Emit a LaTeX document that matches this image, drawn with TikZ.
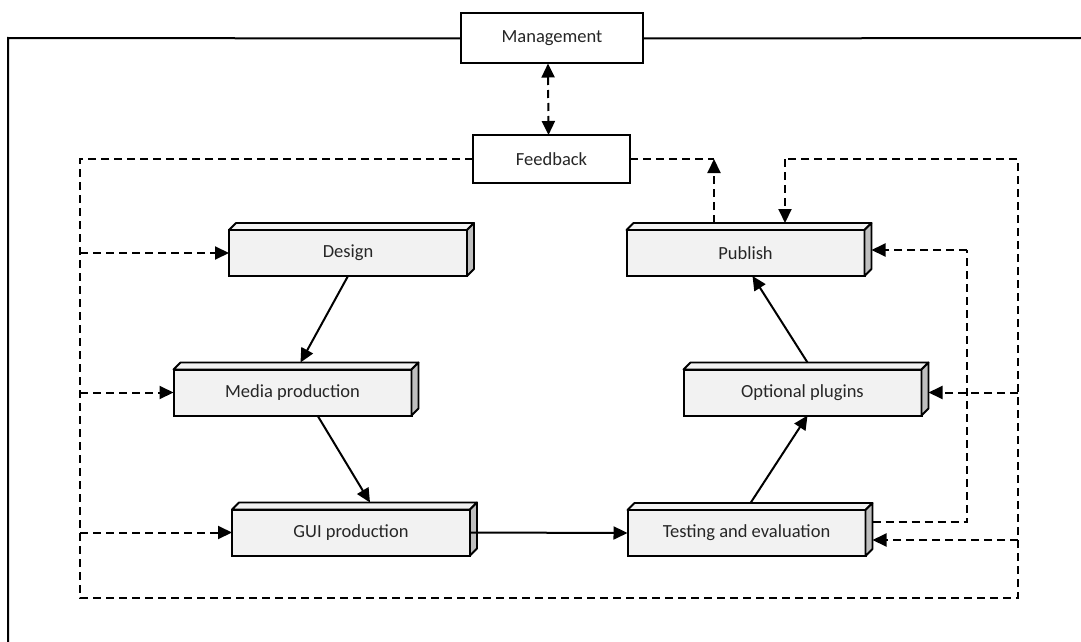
\documentclass[tikz,border=0pt]{standalone}
\usepackage{fontspec}
\setmainfont{Carlito}
\usetikzlibrary{arrows.meta}

\begin{document}
\begin{tikzpicture} [
                x=1pt, y=-1pt,
                every node/.style={font=\fontsize{18.5}{22}\selectfont, text=black!85},
                plain box/.style={draw, line width=2pt, fill=white, inner sep=0pt, outer sep=0pt},
                stage/.style={plain box, fill=black!5, minimum width=238pt, minimum height=46pt},
                depth top/.style={draw, line width=1.8pt, fill=black!5, line join=round},
                depth side/.style={draw, line width=1.8pt, fill=black!25, line join=round},
                flow/.style={draw, line width=2pt, -{Triangle[length=14pt,width=13pt]}},
                back/.style={draw, line width=2pt, dash pattern=on 8pt off 5pt},
                back arrow/.style={back, -{Triangle[length=14pt,width=13pt]}},
                frame/.style={draw, line width=2pt},
            ]
            \useasboundingbox (0,0) rectangle (1081,642);
            % First the management and feedback boxes
            \node[plain box, minimum width=182pt, minimum height=50pt] (mgmt) at (552,38.5) {Management};
            \node[plain box, minimum width=157pt, minimum height=48pt] (fb) at (551.5,159) {Feedback};
            % Then the stages
            \foreach \pos/\name/\text in {
                    {(348,253)/design/Design}, {(292.5,392.5)/media/Media production},
                    {(351,532.5)/gui/GUI production}, {(745.5,253)/publish/Publish},
                    {(802.5,392.5)/plugins/Optional plugins}, {(746.5,533)/testing/Testing and evaluation}}
                \node[stage] (\name) at \pos {\text};
            % give every stage its depth
            \foreach \name in {design, media, gui, publish, plugins, testing} {
                \path[depth top] (\name.north west) -- ++(7,-7) -- ([shift={(7,-7)}]\name.north east) -- (\name.north east) -- cycle;
                \path[depth side] (\name.north east) -- ++(7,-7) -- ([shift={(7,-7)}]\name.south east) -- (\name.south east) -- cycle;
            }
            % Points of the frame and of the feedback loop
            \coordinate (frameL) at (8,38);
            \coordinate (frameB) at (8,642);
            \coordinate (frameR) at (1081,38);
            \coordinate (loopTL) at (80,159);
            \coordinate (loopBL) at (80,598);
            \coordinate (loopBR) at (1018,598);
            \coordinate (loopTR) at (1018,159);
            \coordinate (loopIn) at (785,159);
            \coordinate (fbOut) at (714,159);
            \coordinate (testUp) at (967,522);
            \coordinate (testTop) at (967,250);
            \coordinate (pubTop) at ([yshift=7]publish.north);
            \coordinate (testIn) at ([shift={(7,7)}]testing.east);
            % Frame round everything
            \path[frame] (mgmt.west) -- (frameL) -- (frameB);
            \path[frame] (mgmt.east) -- (frameR);
            % Connect stages with arrows
            \path[flow] (design.south) -- ([shift={(8,-7)}]media.north);
            \path[flow] ([xshift=25]media.south) -- ([shift={(19,-7)}]gui.north);
            \path[flow] (gui.east) -- (testing.west);
            \path[flow] ([shift={(4,-7)}]testing.north) -- ([xshift=5]plugins.south);
            \path[flow] ([shift={(5,-7)}]plugins.north) -- ([xshift=7]publish.south);
            % Feedback loop
            \path[back, {Triangle[length=14pt,width=13pt]}-{Triangle[length=14pt,width=13pt]}]
                ([xshift=-4]mgmt.south) -- ([xshift=-3]fb.north);
            \path[back] (fb.west) -- (loopTL) -- (loopBL) -- (loopBR) -- (loopTR) -- (loopIn);
            \path[back arrow] (loopIn) -- (loopIn |- pubTop);
            \path[back] (fb.east) -- (fbOut);
            \path[back arrow] (fbOut |- pubTop) -- (fbOut);
            \foreach \dest in {design, media, gui}
                \path[back arrow] (loopTL |- \dest.west) -- (\dest.west);
            \path[back arrow] (loopTR |- plugins.east) -- ([xshift=7]plugins.east);
            \path[back arrow] (loopTR |- testIn) -- (testIn);
            \path[back] ([shift={(7,-11)}]testing.east) -- (testUp) -- (testTop);
            \path[back arrow] (testTop) -- ([shift={(7,-3)}]publish.east);
        \end{tikzpicture}
\end{document}
